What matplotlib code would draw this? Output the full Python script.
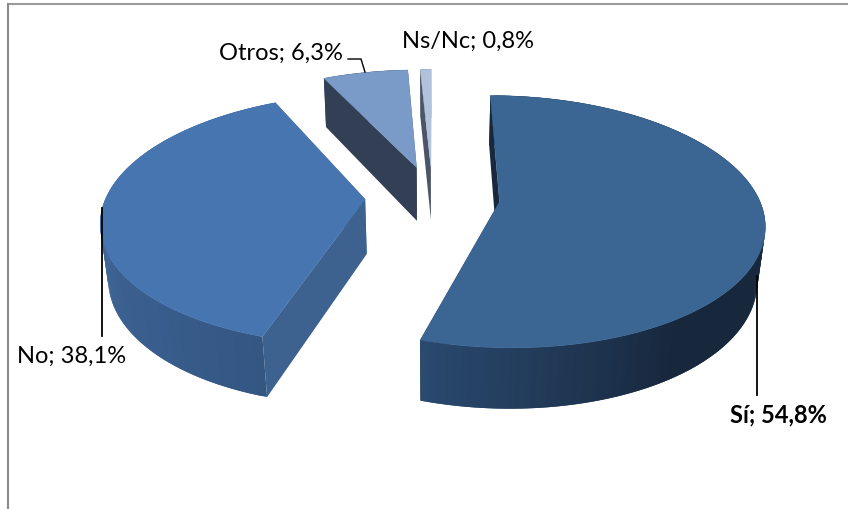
import matplotlib
matplotlib.use("Agg")
import matplotlib.pyplot as plt
import numpy as np

labels = ["Sí", "No", "Otros", "Ns/Nc"]
shares = [54.8, 38.1, 6.3, 0.8]
label_text = ["Sí; 54,8%", "No; 38,1%", "Otros; 6,3%", "Ns/Nc; 0,8%"]

top_colors = ["#3B6593", "#4775B0", "#7A9AC8", "#B0C2DC"]
edge_colors = ["#17283F", "#3D6290", "#333F54", "#4A5568"]
# outer wall colours and the angles (deg) between which they change
wall_colors = [("#17273C", "#2A4A70"), ("#345683", "#436C9F"), ("#333F54", "#333F54"), ("#4A5568", "#4A5568")]
wall_ramps = [(145, 197), (197, 280), (0, 360), (0, 360)]

# projection of the exploded pie
CX, CY = 432.5, 198
RX, RY = 259, 121.5
DEPTH = 56
EXPLODE = 0.26
K_FAR = 0.157
K_DOWN = 0.024


def project(u, v, h=0.0):
    d = 1 + K_FAR * v + K_DOWN * h
    return CX + RX * u / d, CY + (-RY * v + DEPTH * h) / d


def blend(c1, c2, f):
    a = np.array(matplotlib.colors.to_rgb(c1))
    b = np.array(matplotlib.colors.to_rgb(c2))
    return tuple(a + (b - a) * f)


def draw_slice(ax, start, end, top, edge, wall, ramp, z):
    mid = (start + end) / 2
    ou, ov = EXPLODE * np.sin(mid), EXPLODE * np.cos(mid)
    t = np.linspace(start, end, max(8, int(np.degrees(end - start))))
    u = ou + np.sin(t)
    v = ov + np.cos(t)

    # radial walls first, the top face hides what is behind it
    for uu, vv in [(u[0], v[0]), (u[-1], v[-1])]:
        x0, y0 = project(ou, ov, 0)
        x1, y1 = project(uu, vv, 0)
        x2, y2 = project(uu, vv, 1)
        x3, y3 = project(ou, ov, 1)
        ax.fill([x0, x1, x2, x3], [y0, y1, y2, y3], facecolor=edge, edgecolor="none", zorder=z)

    # outer wall in small strips for the shading, each one overlaps the next
    for i in range(len(t) - 1):
        j = min(i + 2, len(t) - 1)
        f = np.clip((np.degrees(t[i]) - ramp[0]) / (ramp[1] - ramp[0]), 0, 1)
        x0, y0 = project(u[i], v[i], 0)
        x1, y1 = project(u[j], v[j], 0)
        x2, y2 = project(u[j], v[j], 1)
        x3, y3 = project(u[i], v[i], 1)
        ax.fill([x0, x1, x2, x3], [y0, y1, y2, y3], facecolor=blend(wall[0], wall[1], f),
                edgecolor="none", zorder=z + 0.1)

    xs, ys = project(np.r_[ou, u], np.r_[ov, v], 0)
    ax.fill(xs, ys, facecolor=top, edgecolor=top, linewidth=0.3, zorder=z + 0.2)


plt.rcParams["font.family"] = ["Lato", "DejaVu Sans"]
fig = plt.figure(figsize=(8.48, 5.10), dpi=100)
ax = fig.add_axes([0, 0, 1, 1])
ax.set_xlim(0, 848)
ax.set_ylim(510, 0)
ax.axis("off")

# chart frame, only top and left are inside the crop
ax.plot([8, 848], [5, 5], color="#9A9A9A", lw=1.5)
ax.plot([8, 8], [5, 510], color="#8A8A8A", lw=1.5)

angles = np.radians(np.r_[0, np.cumsum(shares)] * 3.6)
order = [2, 3, 1, 0]  # far slices first
for n, i in enumerate(order):
    draw_slice(ax, angles[i], angles[i + 1], top_colors[i], edge_colors[i], wall_colors[i], wall_ramps[i], 2 + n)

# leader lines
ax.plot([757, 757], [277, 396], color="black", lw=1.3, zorder=10)
ax.plot([102, 102], [209, 337], color="black", lw=1.3, zorder=10)
ax.plot([348, 361, 365], [60, 60, 73], color="black", lw=1.0, zorder=10)

ax.text(778, 415, label_text[0], ha="center", va="center", fontsize=17, fontweight="bold", color="black", zorder=11)
ax.text(72, 356, label_text[1], ha="center", va="center", fontsize=17, color="black", zorder=11)
ax.text(281, 53, label_text[2], ha="center", va="center", fontsize=17, color="black", zorder=11)
ax.text(468.5, 41, label_text[3], ha="center", va="center", fontsize=17, color="black", zorder=11)

fig.savefig("out.png", dpi=100)
